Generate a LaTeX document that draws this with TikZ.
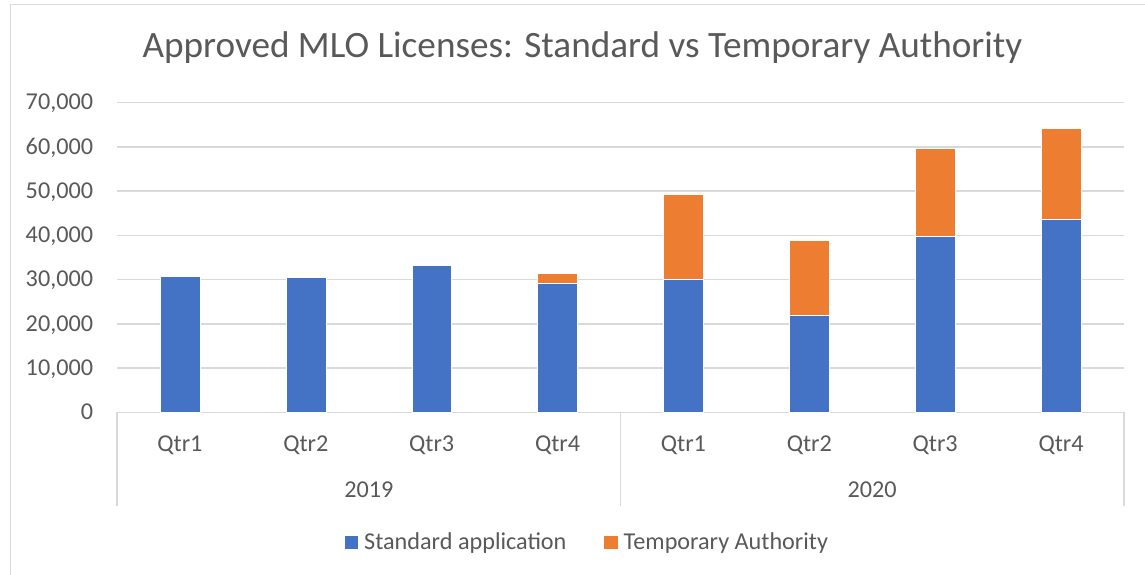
\documentclass[tikz,border=0pt]{standalone}
\usepackage{fontspec}
\setmainfont{Carlito}
\definecolor{sblue}{HTML}{4472C4}
\definecolor{sorange}{HTML}{ED7D31}
\definecolor{gridc}{HTML}{D9D9D9}
\definecolor{txt}{HTML}{595959}
\begin{document}
\begin{tikzpicture}[x=1pt,y=-1pt,
  gridline/.style={draw=gridc,line width=1.4pt},
  axlabel/.style={text=txt,font=\fontsize{24.2}{29}\selectfont,inner sep=0pt},
  titlelabel/.style={text=txt,font=\fontsize{37.2}{44}\selectfont,inner sep=0pt},
  barblue/.style={fill=sblue,draw=white,line width=0.4pt},
  barorange/.style={fill=sorange,draw=white,line width=0.4pt}]
\useasboundingbox (0,0) rectangle (1145,575);
\fill[white] (0,0) rectangle (1145,575);
% chart border
\draw[draw=gridc,line width=1.3pt] (10.5,1200) -- (10.5,4.5) -- (1200,4.5);
% title
\node[titlelabel,anchor=base] (title) at (582.5,57.3) {Approved MLO Licenses: Standard vs Temporary Authority};
% gridlines and value labels
\foreach \v/\lab in {0/0,1/{10,000},2/{20,000},3/{30,000},4/{40,000},5/{50,000},6/{60,000},7/{70,000}}{
  \pgfmathsetmacro{\yy}{412.3-44.23*\v}
  \draw[gridline] (117,\yy) -- (1124,\yy);
  \node[axlabel,anchor=base east] (ylab\v) at (93.3,\yy+7.3) {\lab};
}
% category axis separators
\draw[gridline] (117,412.3) -- (117,505.7);
\draw[gridline] (620.5,412.3) -- (620.5,505.7);
\draw[gridline] (1124,412.3) -- (1124,505.7);
% bars (values in thousands)
\foreach \i/\vb/\vt in {0/30.8/30.8,1/30.5/30.5,2/33.2/33.2,3/29.2/31.5,4/30.2/49.3,5/21.9/39.0,6/39.9/59.75,7/43.6/64.3}{
  \pgfmathsetmacro{\cx}{117+125.875*(\i+0.5)}
  \pgfmathsetmacro{\yb}{412.3-4.423*\vb}
  \pgfmathsetmacro{\yt}{412.3-4.423*\vt}
  \pgfmathtruncatemacro{\hasor}{\vt>\vb ? 1 : 0}
  \ifnum\hasor=1
    \filldraw[barorange] (\cx-19.9,\yb) rectangle (\cx+19.9,\yt);
  \fi
  \filldraw[barblue] (\cx-19.9,412.3) rectangle (\cx+19.9,\yb);
}
% category labels
\foreach \i in {0,...,7}{
  \pgfmathsetmacro{\cx}{117+125.875*(\i+0.5)}
  \pgfmathtruncatemacro{\q}{mod(\i,4)+1}
  \node[axlabel,anchor=base] (q\i) at (\cx,451.7) {Qtr\q};
}
\node[axlabel,anchor=base] (y2019) at (368.8,497.3) {2019};
\node[axlabel,anchor=base] (y2020) at (872.2,497.3) {2020};
% legend
\fill[sblue] (344.6,535.5) rectangle (358.2,549);
\node[axlabel,anchor=base west] (legstd) at (364,549) {Standard application};
\fill[sorange] (604,535.5) rectangle (617.6,549);
\node[axlabel,anchor=base west] (legtmp) at (623.5,549) {Temporary Authority};
\end{tikzpicture}
\end{document}
